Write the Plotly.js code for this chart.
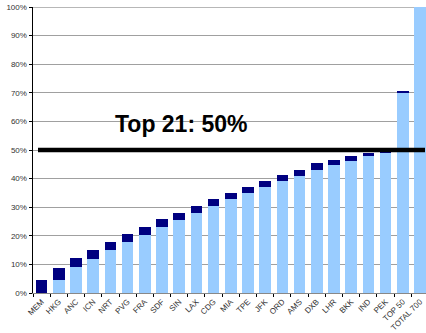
<!DOCTYPE html>
<html>
<head>
<meta charset="utf-8">
<script src="https://cdn.plot.ly/plotly-3.0.1.min.js"></script>
<style>
  html, body { margin: 0; padding: 0; background: #fff; }
  #chart { width: 426px; height: 333px; }
</style>
</head>
<body>
<div id="chart"></div>
<script>
// Airports ranked by share of cargo, with the running total underneath
const airports = ["MEM", "HKG", "ANC", "ICN", "NRT", "PVG", "FRA", "SDF", "SIN", "LAX", "CDG",
                  "MIA", "TPE", "JFK", "ORD", "AMS", "DXB", "LHR", "BKK", "IND", "PEK", "TOP 50", "TOTAL 700"];
// cumulative share of the airports ranked above (percent)
const cumulativeBefore = [0, 4.4, 9.0, 12.0, 15.2, 18.0, 20.4, 23.2, 25.6, 28.1, 30.5,
                          32.7, 35.0, 37.1, 39.2, 41.0, 43.1, 44.9, 46.2, 47.9, 49.1, 70.0, 100];
// each airport's own share (percent)
const ownShare = [4.7, 4.4, 3.4, 3.2, 2.8, 2.7, 2.8, 2.8, 2.5, 2.4, 2.5,
                  2.3, 2.2, 2.1, 2.1, 2.1, 2.2, 1.6, 1.7, 1.2, 0.9, 0.6, 0];
const yTicks = [0, 10, 20, 30, 40, 50, 60, 70, 80, 90, 100];
const topLabel = "Top 21: 50%";
const topShare = 50;

const traces = [
  {
    type: "bar", x: airports, y: cumulativeBefore, name: "cumulative",
    marker: { color: "#99ccff", line: { width: 0 } },
    width: 0.68, hoverinfo: "skip"
  },
  {
    type: "bar", x: airports, y: ownShare, name: "share",
    marker: { color: "#000080", line: { width: 0 } },
    width: 0.68, hoverinfo: "skip"
  }
];

const layout = {
  width: 426, height: 333,
  margin: { l: 33, r: 0, t: 7, b: 40, pad: 0 },
  paper_bgcolor: "#fff", plot_bgcolor: "#fff",
  barmode: "stack",
  showlegend: false,
  font: { family: "Liberation Sans, Arial, sans-serif", size: 8, color: "#333" },
  xaxis: {
    type: "category",
    range: [-0.5, 22.35],
    tickangle: -45,
    ticks: "outside", tickson: "boundaries", ticklen: 3, tickwidth: 1, tickcolor: "#000",
    showline: true, linecolor: "#888", linewidth: 1,
    showgrid: false, zeroline: false,
    tickfont: { size: 8, color: "#333" },
    automargin: false
  },
  yaxis: {
    range: [0, 100],
    tickvals: yTicks,
    ticktext: yTicks.map(v => v + "%"),
    ticks: "outside", ticklen: 3, tickwidth: 1, tickcolor: "#000",
    showline: true, linecolor: "#000", linewidth: 1.5,
    showgrid: true, gridcolor: "#a0a0a0", gridwidth: 1,
    zeroline: false,
    tickfont: { size: 8, color: "#333" },
    automargin: false
  },
  shapes: [
    // top border of the plot area
    { type: "line", xref: "paper", yref: "y", x0: 0, x1: 1, y0: 100, y1: 100,
      line: { color: "#707070", width: 1 }, layer: "between" },
    // white patch behind the label
    { type: "rect", xref: "paper", yref: "y", x0: (102 - 33) / 393, x1: (266 - 33) / 393,
      y0: 57, y1: 63, fillcolor: "#fff", line: { width: 0 }, layer: "between" },
    // 50% threshold bar
    { type: "line", xref: "paper", yref: "y", x0: (38 - 33) / 393, x1: (425 - 33) / 393,
      y0: topShare, y1: topShare, line: { color: "#000", width: 4.5 }, layer: "above" }
  ],
  annotations: [
    { text: topLabel, xref: "paper", yref: "paper",
      x: (181.5 - 33) / 393, y: (293 - 124) / 286,
      xanchor: "center", yanchor: "middle", showarrow: false,
      font: { family: "Liberation Sans, Arial, sans-serif", size: 23, color: "#000", weight: "bold" } }
  ]
};

Plotly.newPlot("chart", traces, layout, { staticPlot: true, displayModeBar: false });
</script>
</body>
</html>
